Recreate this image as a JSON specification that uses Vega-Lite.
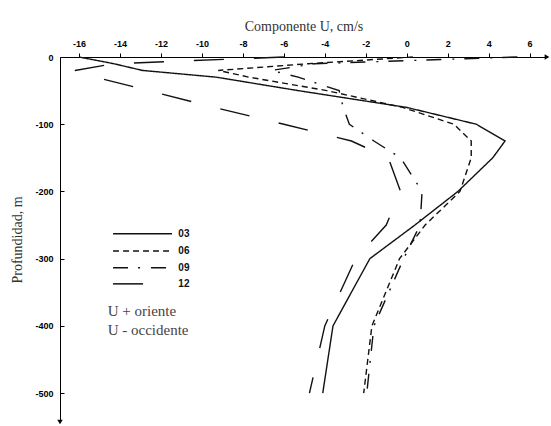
{
  "$schema": "https://vega.github.io/schema/vega-lite/v6.json",
  "width": 487,
  "height": 365,
  "autosize": "none",
  "padding": {"left": 60, "top": 57, "right": 4, "bottom": 4},
  "background": "white",
  "config": {
    "view": {"stroke": null},
    "axis": {"grid": false, "domainColor": "#000", "tickColor": "#000", "labelColor": "#000",
             "labelFont": "Liberation Sans", "labelFontWeight": "bold", "labelFontSize": 9,
             "labelExpr": "replace(datum.label, '\u2212', '-')",
             "titleFont": "Liberation Serif", "titleFontWeight": "normal", "titleFontSize": 14, "titleColor": "#333"}
  },
  "datasets": {
    "perfiles": [
      {"serie": "03", "prof": 0, "u": -16}, {"serie": "03", "prof": -10, "u": -14.3}, {"serie": "03", "prof": -20, "u": -12.9},
      {"serie": "03", "prof": -30, "u": -9.3}, {"serie": "03", "prof": -50, "u": -5.3}, {"serie": "03", "prof": -75, "u": 0},
      {"serie": "03", "prof": -100, "u": 3.4}, {"serie": "03", "prof": -125, "u": 4.8}, {"serie": "03", "prof": -150, "u": 4.2},
      {"serie": "03", "prof": -200, "u": 2.5}, {"serie": "03", "prof": -250, "u": 0.4}, {"serie": "03", "prof": -300, "u": -1.8},
      {"serie": "03", "prof": -400, "u": -3.6}, {"serie": "03", "prof": -500, "u": -4.1},

      {"serie": "06", "prof": 0, "u": 0.3}, {"serie": "06", "prof": -10, "u": -4.8}, {"serie": "06", "prof": -20, "u": -9.2},
      {"serie": "06", "prof": -30, "u": -7.7}, {"serie": "06", "prof": -50, "u": -3.9}, {"serie": "06", "prof": -75, "u": -0.2},
      {"serie": "06", "prof": -100, "u": 2.3}, {"serie": "06", "prof": -125, "u": 3.15}, {"serie": "06", "prof": -150, "u": 3.15},
      {"serie": "06", "prof": -200, "u": 2.6}, {"serie": "06", "prof": -250, "u": 0.9}, {"serie": "06", "prof": -300, "u": -0.35},
      {"serie": "06", "prof": -400, "u": -1.7}, {"serie": "06", "prof": -500, "u": -2.1},

      {"serie": "09", "prof": 0, "u": 5.4}, {"serie": "09", "prof": -10, "u": -4.5}, {"serie": "09", "prof": -20, "u": -6.6},
      {"serie": "09", "prof": -30, "u": -5.3}, {"serie": "09", "prof": -50, "u": -3.3}, {"serie": "09", "prof": -75, "u": -3.1},
      {"serie": "09", "prof": -100, "u": -2.8}, {"serie": "09", "prof": -125, "u": -1.6}, {"serie": "09", "prof": -150, "u": -0.3},
      {"serie": "09", "prof": -200, "u": 0.75}, {"serie": "09", "prof": -250, "u": 0.65}, {"serie": "09", "prof": -300, "u": -0.15},
      {"serie": "09", "prof": -400, "u": -1.6}, {"serie": "09", "prof": -500, "u": -1.95},

      {"serie": "12", "prof": 0, "u": -6}, {"serie": "12", "prof": -10, "u": -14.3}, {"serie": "12", "prof": -20, "u": -16.2},
      {"serie": "12", "prof": -30, "u": -15.2}, {"serie": "12", "prof": -50, "u": -12.6}, {"serie": "12", "prof": -75, "u": -9.4},
      {"serie": "12", "prof": -100, "u": -6.0}, {"serie": "12", "prof": -125, "u": -2.7}, {"serie": "12", "prof": -150, "u": -0.9},
      {"serie": "12", "prof": -200, "u": -0.3}, {"serie": "12", "prof": -250, "u": -1.0}, {"serie": "12", "prof": -300, "u": -2.5},
      {"serie": "12", "prof": -400, "u": -4.0}, {"serie": "12", "prof": -500, "u": -4.75}
    ],
    "leyenda": [
      {"serie": "03", "u1": -14.34, "u2": -11.46, "ut": -11.15, "prof": -263},
      {"serie": "06", "u1": -14.34, "u2": -11.46, "ut": -11.15, "prof": -288.5},
      {"serie": "09", "u1": -14.34, "u2": -11.46, "ut": -11.15, "prof": -313.5},
      {"serie": "12", "u1": -14.34, "u2": -11.46, "ut": -11.15, "prof": -337.5}
    ],
    "flechas": [
      {"u": 6.85, "prof": 0, "forma": "triangle-right"},
      {"u": -16.93, "prof": -543, "forma": "triangle-down"}
    ],
    "notas": [
      {"texto": "U + oriente", "u": -14.6, "prof": -378},
      {"texto": "U - occidente", "u": -14.6, "prof": -406}
    ]
  },
  "layer": [
    {
      "data": {"name": "perfiles"},
      "mark": {"type": "line", "strokeWidth": 1.4, "color": "#111"},
      "encoding": {
        "x": {"field": "u", "type": "quantitative",
              "scale": {"domain": [-16.93, 6.85], "nice": false, "zero": false},
              "axis": {"orient": "top", "title": "Componente U, cm/s", "values": [-16, -14, -12, -10, -8, -6, -4, -2, 0, 2, 4, 6],
                       "tickSize": 4, "labelPadding": 5, "titlePadding": 6}},
        "y": {"field": "prof", "type": "quantitative",
              "scale": {"domain": [-543, 0], "nice": false, "zero": false},
              "axis": {"title": "Profundidad, m", "values": [0, -50, -100, -150, -200, -250, -300, -350, -400, -450, -500],
                       "tickSize": -4, "labelPadding": 11, "titlePadding": 10}},
        "strokeDash": {"field": "serie", "type": "nominal",
                       "scale": {"domain": ["03", "06", "09", "12"], "range": [[1, 0], [6, 4], [15, 10, 2, 11], [30, 30]]},
                       "legend": null},
        "order": {"field": "prof", "sort": "descending"}
      }
    },
    {
      "data": {"name": "leyenda"},
      "mark": {"type": "rule", "strokeWidth": 1.5, "color": "#111"},
      "encoding": {
        "x": {"field": "u1", "type": "quantitative"},
        "x2": {"field": "u2"},
        "y": {"field": "prof", "type": "quantitative"},
        "strokeDash": {"field": "serie", "type": "nominal", "legend": null}
      }
    },
    {
      "data": {"name": "leyenda"},
      "mark": {"type": "text", "align": "left", "baseline": "middle", "font": "Liberation Sans", "fontWeight": "bold", "fontSize": 10, "color": "#111"},
      "encoding": {
        "x": {"field": "ut", "type": "quantitative"},
        "y": {"field": "prof", "type": "quantitative"},
        "text": {"field": "serie"}
      }
    },
    {
      "data": {"name": "flechas"},
      "mark": {"type": "point", "filled": true, "color": "#000", "size": 30, "opacity": 1},
      "encoding": {
        "x": {"field": "u", "type": "quantitative"},
        "y": {"field": "prof", "type": "quantitative"},
        "shape": {"field": "forma", "type": "nominal", "scale": {"domain": ["triangle-right", "triangle-down"], "range": ["triangle-right", "triangle-down"]}, "legend": null}
      }
    },
    {
      "data": {"name": "notas"},
      "mark": {"type": "text", "align": "left", "baseline": "middle", "font": "Liberation Serif", "fontSize": 15, "color": "#444"},
      "encoding": {
        "x": {"field": "u", "type": "quantitative"},
        "y": {"field": "prof", "type": "quantitative"},
        "text": {"field": "texto"}
      }
    }
  ]
}
